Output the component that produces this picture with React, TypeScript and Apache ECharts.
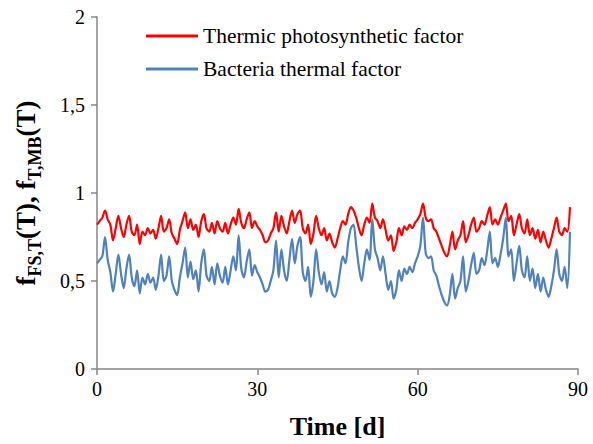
import React, { useEffect, useRef } from "react";
import * as echarts from "echarts";

const timeStep = 0.5; // days between samples
const seriesNames = ["Thermic photosynthetic factor", "Bacteria thermal factor"];
const xTicks = [0, 30, 60, 90];
const yTicks = [0, 0.5, 1, 1.5, 2];

const thermicPhoto = [
  0.82, 0.84, 0.86, 0.9, 0.85, 0.82, 0.73, 0.8, 0.87, 0.8,
  0.75, 0.82, 0.87, 0.78, 0.76, 0.82, 0.71, 0.78, 0.76, 0.8,
  0.77, 0.79, 0.74, 0.8, 0.87, 0.78, 0.8, 0.85, 0.77, 0.74,
  0.71, 0.79, 0.84, 0.89, 0.8, 0.85, 0.79, 0.82, 0.75, 0.84,
  0.88, 0.8, 0.78, 0.83, 0.77, 0.84, 0.8, 0.78, 0.83, 0.77,
  0.82, 0.86, 0.82, 0.91, 0.83, 0.8, 0.85, 0.89, 0.8, 0.84,
  0.81, 0.79, 0.76, 0.72, 0.73, 0.77, 0.8, 0.89, 0.78, 0.87,
  0.81, 0.77, 0.84, 0.9, 0.83, 0.88, 0.9, 0.8, 0.77, 0.82,
  0.71, 0.77, 0.87, 0.8, 0.76, 0.8, 0.73, 0.77, 0.72, 0.69,
  0.74, 0.8, 0.84, 0.82, 0.88, 0.92, 0.9, 0.86, 0.8, 0.76,
  0.82, 0.86, 0.83, 0.94, 0.86, 0.84, 0.8, 0.85, 0.79, 0.73,
  0.76, 0.67, 0.72, 0.8, 0.76, 0.81, 0.79, 0.82, 0.8, 0.83,
  0.85, 0.88, 0.94, 0.86, 0.84, 0.85, 0.8, 0.78, 0.74, 0.7,
  0.66, 0.64, 0.7, 0.78, 0.68, 0.73, 0.76, 0.84, 0.72, 0.76,
  0.82, 0.86, 0.78, 0.8, 0.84, 0.82, 0.87, 0.92, 0.82, 0.85,
  0.82, 0.86, 0.9, 0.94, 0.84, 0.87, 0.76, 0.82, 0.88, 0.8,
  0.77, 0.85, 0.76, 0.8, 0.74, 0.79, 0.72, 0.78, 0.73, 0.69,
  0.74, 0.8, 0.86, 0.78, 0.76, 0.8, 0.78, 0.92,
];

const bacteriaThermal = [
  0.6, 0.62, 0.64, 0.75, 0.62, 0.55, 0.44, 0.54, 0.65, 0.54,
  0.46, 0.57, 0.65, 0.52, 0.47, 0.56, 0.43, 0.52, 0.48, 0.54,
  0.49, 0.52, 0.45, 0.53, 0.65, 0.5, 0.53, 0.64, 0.5, 0.45,
  0.42, 0.52, 0.6, 0.69, 0.52, 0.61, 0.51, 0.56, 0.44, 0.6,
  0.68, 0.53, 0.5, 0.58, 0.48, 0.6, 0.53, 0.49, 0.58, 0.48,
  0.56, 0.64, 0.56, 0.76, 0.57, 0.52, 0.61, 0.68, 0.53, 0.59,
  0.55, 0.52, 0.48, 0.44, 0.45, 0.5, 0.56, 0.73, 0.52, 0.68,
  0.56, 0.5, 0.62, 0.74, 0.6, 0.7, 0.75, 0.55, 0.5, 0.58,
  0.41, 0.5, 0.68, 0.55, 0.48, 0.55, 0.44, 0.5, 0.43, 0.41,
  0.46, 0.56, 0.64, 0.6, 0.72, 0.8, 0.82, 0.7, 0.58, 0.5,
  0.6, 0.68, 0.62, 0.85, 0.68, 0.63, 0.56, 0.64, 0.54, 0.45,
  0.5, 0.4, 0.45, 0.56, 0.5, 0.57, 0.54, 0.58, 0.55, 0.6,
  0.64, 0.7, 0.86, 0.66, 0.63, 0.64, 0.56, 0.53, 0.47, 0.42,
  0.38, 0.36, 0.42, 0.54, 0.4, 0.46, 0.5, 0.64, 0.44, 0.5,
  0.59, 0.66, 0.54, 0.56, 0.63, 0.59, 0.67, 0.78, 0.6, 0.63,
  0.58, 0.65, 0.74, 0.86, 0.64, 0.68, 0.5, 0.6, 0.7, 0.56,
  0.52, 0.64, 0.5, 0.57, 0.46, 0.54, 0.44, 0.52, 0.45, 0.41,
  0.47, 0.56, 0.68, 0.54, 0.5, 0.58, 0.46, 0.78,
];

const FONT = "Liberation Serif";

export default function App() {
  const ref = useRef<HTMLDivElement>(null);
  useEffect(() => {
    if (!ref.current) return;
    const chart = echarts.init(ref.current, undefined, { renderer: "svg" });
    const toPairs = (arr: number[]) => arr.map((v, i) => [i * timeStep, v]);
    chart.setOption({
      animation: false,
      backgroundColor: "#ffffff",
      textStyle: { fontFamily: FONT, color: "#000" },
      grid: { left: 97, right: 15, top: 17, bottom: 75 },
      legend: {
        orient: "vertical",
        left: 146,
        top: 25,
        padding: 0,
        itemWidth: 52,
        itemHeight: 3,
        itemGap: 11,
        icon: "rect",
        textStyle: { fontFamily: FONT, fontSize: 21.5, color: "#000" },
        data: seriesNames,
      },
      xAxis: {
        type: "value",
        min: 0,
        max: 90,
        interval: 30,
        axisLine: { show: true, lineStyle: { color: "#868686", width: 1.5 } },
        axisTick: { show: true, length: 6, lineStyle: { color: "#868686", width: 1.5 } },
        splitLine: { show: false },
        axisLabel: {
          fontFamily: FONT,
          fontSize: 20,
          color: "#000",
          margin: 10,
          formatter: (v: number) => (xTicks.includes(v) ? String(v) : ""),
        },
        name: "Time [d]",
        nameLocation: "middle",
        nameGap: 44,
        nameTextStyle: { fontFamily: FONT, fontSize: 26, fontWeight: "bold", color: "#000" },
      },
      yAxis: {
        type: "value",
        min: 0,
        max: 2,
        interval: 0.5,
        axisLine: { show: true, lineStyle: { color: "#868686", width: 1.5 } },
        axisTick: { show: true, length: 6, lineStyle: { color: "#868686", width: 1.5 } },
        splitLine: { show: false },
        axisLabel: {
          fontFamily: FONT,
          fontSize: 20,
          color: "#000",
          margin: 12,
          formatter: (v: number) => (yTicks.includes(v) ? String(v).replace(".", ",") : ""),
        },
        name: "{b|f}{s|FS,T}{b|(T), f}{s|T,MB}{b|(T)}",
        nameLocation: "middle",
        nameRotate: 90,
        nameGap: 58,
        nameTextStyle: {
          padding: [12, 0, 0, 0],
          rich: {
            b: { fontFamily: FONT, fontSize: 27, fontWeight: "bold", color: "#000", lineHeight: 30, verticalAlign: "bottom" },
            s: { fontFamily: FONT, fontSize: 18, fontWeight: "bold", color: "#000", lineHeight: 22, verticalAlign: "bottom", padding: [0, 0, -5, 0] },
          },
        },
      },
      series: [
        {
          name: seriesNames[0],
          type: "line",
          data: toPairs(thermicPhoto),
          showSymbol: false,
          smooth: 0.3,
          lineStyle: { color: "#ff0000", width: 2.2 },
          itemStyle: { color: "#ff0000" },
        },
        {
          name: seriesNames[1],
          type: "line",
          data: toPairs(bacteriaThermal),
          showSymbol: false,
          smooth: 0.3,
          lineStyle: { color: "#4f81bd", width: 2.2 },
          itemStyle: { color: "#4f81bd" },
        },
      ],
    });
    return () => chart.dispose();
  }, []);
  return <div ref={ref} style={{ width: 593, height: 444, position: "absolute", left: 0, top: 0 }} />;
}
